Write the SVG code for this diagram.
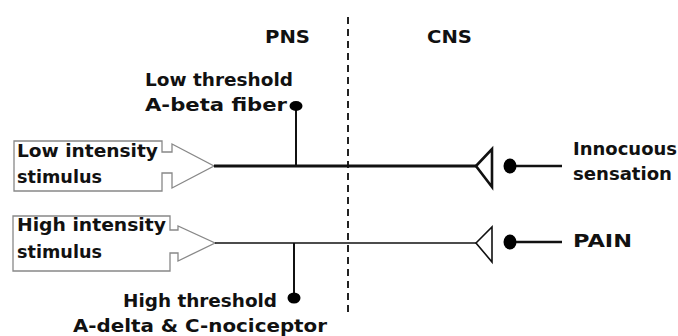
<svg xmlns="http://www.w3.org/2000/svg" width="678" height="336" viewBox="0 0 678 336">
<style>
text{font-family:"DejaVu Sans","Liberation Sans",sans-serif;font-weight:bold;fill:#111;font-size:18px}
.box{fill:#fff;stroke:#888;stroke-width:1.3}
.ax{stroke:#111;fill:none}
.dot{fill:#000}
.syn{fill:#fff;stroke:#111}
</style>
<rect width="678" height="336" fill="#fff"/>
<g id="divider"><line x1="348" y1="17" x2="348" y2="312" stroke="#222" stroke-width="2" stroke-dasharray="7,5"/></g>
<g id="region-labels">
<text x="265" y="43" textLength="45" lengthAdjust="spacingAndGlyphs">PNS</text>
<text x="427" y="43" textLength="45" lengthAdjust="spacingAndGlyphs">CNS</text>
</g>
<g id="low-stimulus">
<path class="box" d="M14,141 H162 V152 H172 V144 L214,166 L172,188 V173 H162 V191 H14 Z"/>
<text x="17" y="157" textLength="141" lengthAdjust="spacingAndGlyphs">Low intensity</text>
<text x="17" y="183" textLength="85" lengthAdjust="spacingAndGlyphs">stimulus</text>
</g>
<g id="high-stimulus">
<path class="box" d="M13,216 H170 V230 H178 V226 L215,243 L178,261 V253 H170 V271 H13 Z"/>
<text x="17" y="231" textLength="149" lengthAdjust="spacingAndGlyphs">High intensity</text>
<text x="17" y="258" textLength="85" lengthAdjust="spacingAndGlyphs">stimulus</text>
</g>
<g id="connectors">
<line class="ax" x1="214" y1="166" x2="477" y2="166" stroke-width="3"/>
<line class="ax" x1="296" y1="107" x2="296" y2="166" stroke-width="2"/>
<line class="ax" x1="215" y1="243" x2="477" y2="243" stroke-width="1.6"/>
<line class="ax" x1="294" y1="243" x2="294" y2="298" stroke-width="2"/>
<line class="ax" x1="516" y1="166" x2="562" y2="166" stroke-width="2.6"/>
<line class="ax" x1="516" y1="242" x2="562" y2="242" stroke-width="2.6"/>
</g>
<g id="a-beta">
<ellipse class="dot" cx="296" cy="106" rx="6.5" ry="5"/>
<text x="145" y="86" textLength="148" lengthAdjust="spacingAndGlyphs">Low threshold</text>
<text x="145" y="111" textLength="142" lengthAdjust="spacingAndGlyphs">A-beta fiber</text>
</g>
<g id="nociceptor">
<ellipse class="dot" cx="294" cy="298" rx="6.5" ry="5.5"/>
<text x="123" y="307" textLength="154" lengthAdjust="spacingAndGlyphs">High threshold</text>
<text x="73" y="332" textLength="254" lengthAdjust="spacingAndGlyphs">A-delta &amp; C-nociceptor</text>
</g>
<g id="innocuous">
<path class="syn" d="M476,166 L492,149 V187 Z" stroke-width="2.6"/>
<ellipse class="dot" cx="510" cy="166" rx="6.5" ry="7.5"/>
<text x="573" y="155" textLength="104" lengthAdjust="spacingAndGlyphs">Innocuous</text>
<text x="573" y="180" textLength="99" lengthAdjust="spacingAndGlyphs">sensation</text>
</g>
<g id="pain">
<path class="syn" d="M476,243 L492,227 V262 Z" stroke-width="1.6"/>
<ellipse class="dot" cx="510" cy="242" rx="6.5" ry="7.5"/>
<text x="573" y="247" textLength="59" lengthAdjust="spacingAndGlyphs">PAIN</text>
</g>
</svg>
